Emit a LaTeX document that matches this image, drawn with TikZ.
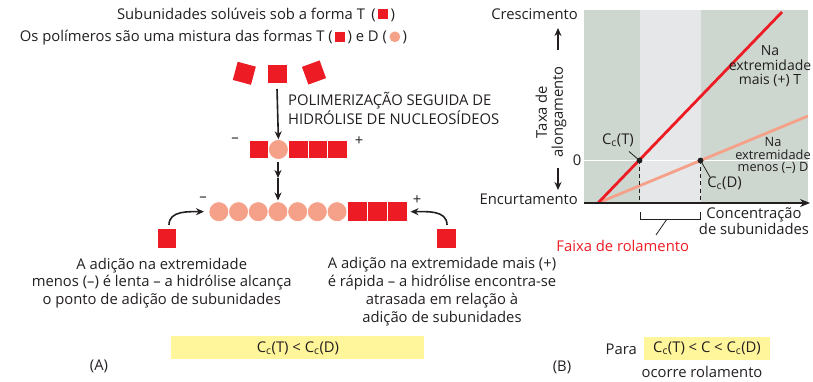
\documentclass[tikz,border=0pt]{standalone}
\usepackage{fontspec}
\setmainfont{Open Sans}
\usetikzlibrary{arrows.meta}
\definecolor{tred}{HTML}{ED1C24}
\definecolor{dsal}{HTML}{F5A088}
\definecolor{ylw}{HTML}{FFF59A}
\definecolor{bgg}{HTML}{CDD7D0}
\definecolor{bgl}{HTML}{E6E7E9}
\definecolor{txt}{HTML}{231F20}
\newcommand{\Tsq}{\textcolor{tred}{\rule{10pt}{10pt}}}
\newcommand{\Dci}{\textcolor{dsal}{\raisebox{-0.3pt}{\tikz\fill (0,0) circle (5.4pt);}}}
\newcommand{\Cc}{C\textsubscript{c}}
\begin{document}
\begin{tikzpicture}[x=1pt,y=-1pt, font=\fontsize{14.8}{17}\selectfont,
 tsq/.style={fill=tred, draw=white, line width=0.6pt, minimum width=19.6pt, minimum height=17.6pt, inner sep=0},
 tsqb/.style={tsq, minimum width=20pt, minimum height=20pt},
 free/.style={fill=tred, minimum size=18.8pt, inner sep=0},
 dci/.style={circle, fill=dsal, draw=white, line width=0.6pt, minimum size=19.8pt, inner sep=0},
 arr/.style={-{Stealth[length=8pt,width=7pt]}, line width=1.6pt, draw=txt},
 lbl/.style={text=txt, inner sep=0, align=center},
]
\useasboundingbox (0,0) rectangle (813,382);
% ---------------- panel A ----------------
\node[lbl] (t1) at (256,15) {Subunidades solúveis sob a forma T \,(\,\Tsq\,)};
\node[lbl] (t2) at (213.5,38) {Os polímeros são uma mistura das formas T (\,\Tsq\,) e D (\,\Dci\,)};
% free subunits
\node[free, rotate=-15] (s1) at (244.3,73.3) {};
\node[free] (s2) at (277.4,74) {};
\node[free, rotate=20] (s3) at (314,72.5) {};
\coordinate (a1s) at (277,89);
\node[lbl, anchor=west, align=left, font=\fontsize{14.8}{17}\selectfont] (poly) at (288,108.5) {POLIMERIZAÇÃO SEGUIDA DE\\HIDRÓLISE DE NUCLEOSÍDEOS};
% filament 1
\node[tsq] (f1a) at (258.8,149.5) {};
\node[dci] (f1b) at (278.4,149.5) {};
\node[tsq] (f1c) at (298,149.5) {};
\node[tsq] (f1d) at (317.6,149.5) {};
\node[tsq] (f1e) at (337.2,149.5) {};
\draw[arr] (a1s) -- (f1b.north);
\node[lbl] (m1) at (235,140) {–};
\node[lbl] (p1) at (359,141) {+};
% filament 2
\foreach \i in {1,...,7} {
  \node[dci] (f2c\i) at ({218.85+(\i-1)*19.7},211.7) {};
}
\foreach \i in {1,2,3} {
  \node[tsqb] (f2s\i) at ({357+(\i-1)*20},211.7) {};
}
\coordinate (mid) at (278,178);
\draw[arr] (278,162) -- (mid);
\draw[arr] (mid) -- (278,200.5);
\node[lbl] (m2) at (203,199) {–};
\node[lbl] (p2) at (417,200) {+};
% added subunits
\node[free] (lsq) at (167,238.5) {};
\node[free] (rsq) at (446.5,238.5) {};
\coordinate (la) at (204,211.7);
\coordinate (ra) at (410.5,211.7);
\draw[arr] ([xshift=2pt,yshift=4pt]lsq.north) to[out=90,in=180] (la);
\draw[arr] ([xshift=0.5pt,yshift=4pt]rsq.north) to[out=90,in=0] (ra);
\node[lbl, font=\fontsize{14.8}{17.8}\selectfont] (ltxt) at (161.7,283) {A adição na extremidade\\menos (–) é lenta – a hidrólise alcança\\o ponto de adição de subunidades};
\node[lbl, font=\fontsize{14.8}{17.8}\selectfont] (rtxt) at (442,291.5) {A adição na extremidade mais (+)\\é rápida – a hidrólise encontra-se\\atrasada em relação à\\adição de subunidades};
\fill[ylw] (171,336) rectangle (424,359);
\node[lbl] (ineqA) at (298,348) {\Cc(T) < \Cc(D)};
\node[lbl] (A) at (99,366) {(A)};
% ---------------- panel B ----------------
\fill[bgg] (584,10) rectangle (808,203);
\fill[bgl] (640,10) rectangle (701,203);
\draw[white, line width=1pt] (584,160.5) -- (808,160.5);
\coordinate (o) at (598,203);
\coordinate (tend) at (782,12);
\coordinate (dend) at (808,116);
\begin{scope}
\clip (584,10) rectangle (808,203);
\draw[dsal, line width=2.8pt] (o) -- (dend);
\draw[tred, line width=2.8pt] (o) -- (tend);
\end{scope}
\coordinate (ccT) at (639.5,160.5);
\coordinate (ccD) at (700.5,160.5);
\draw[txt, dashed, line width=0.8pt, dash pattern=on 4pt off 3pt] (ccT) -- (639.5,203);
\draw[txt, dashed, line width=0.8pt, dash pattern=on 4pt off 3pt] (ccD) -- (700.5,203);
\fill[txt] (ccT) circle (2.9pt);
\fill[txt] (ccD) circle (2.9pt);
\coordinate (ax0) at (584,203);
\coordinate (ax1) at (810,203);
\draw[txt, line width=2pt, -{Stealth[length=10pt,width=8pt]}] (ax0) -- (ax1);
% bracket
\draw[txt, line width=0.8pt] (640.5,211.5) -- (640.5,219) -- (700.5,219) -- (700.5,211.5);
\coordinate (br) at (667,219);
\node[lbl, text=tred] (faixa) at (622.7,246) {Faixa de rolamento};
\draw[txt, line width=0.8pt] (br) -- (656,235);
\node[lbl, font=\fontsize{14.8}{14}\selectfont] (conc) at (754,221) {Concentração\\de subunidades};
\node[lbl, anchor=east] (cres) at (578,14) {Crescimento};
\node[lbl, anchor=east] (encu) at (578,199) {Encurtamento};
\node[lbl] (zero) at (577,160.5) {0};
\node[lbl, rotate=90, font=\fontsize{14.8}{16}\selectfont] (ylab) at (551,112) {Taxa de\\alongamento};
\coordinate (up0) at (558,50);
\coordinate (up1) at (558,28);
\coordinate (dn0) at (558,168);
\coordinate (dn1) at (558,190);
\draw[arr] (up0) -- (up1);
\draw[arr] (dn0) -- (dn1);
\node[lbl, font=\fontsize{14}{14.5}\selectfont] (naT) at (770,66.5) {Na\\extremidade\\mais (+) T};
\node[lbl, font=\fontsize{12.8}{12.5}\selectfont] (naD) at (773,155.5) {Na\\extremidade\\menos (–) D};
\node[lbl] (lT) at (618,140) {\Cc(T)};
\draw[txt, line width=0.8pt] (629,151.5) -- (ccT);
\node[lbl] (lD) at (724.5,183) {\Cc(D)};
\draw[txt, line width=0.8pt] (ccD) -- (710,177);
\node[lbl, anchor=east] (para) at (637,349) {Para};
\fill[ylw] (644,337) rectangle (770,360);
\node[lbl] (ineqB) at (707,348.5) {\Cc(T) < C < \Cc(D)};
\node[lbl] (ocorre) at (702,372) {ocorre rolamento};
\node[lbl] (B) at (562,367) {(B)};
\end{tikzpicture}
\end{document}
